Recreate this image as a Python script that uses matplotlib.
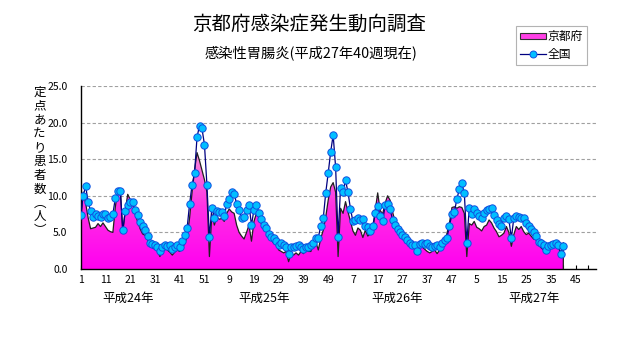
import numpy as np
import matplotlib
matplotlib.use('Agg')
import matplotlib.pyplot as plt
from matplotlib.colors import LinearSegmentedColormap
from matplotlib.patches import Patch
from matplotlib.lines import Line2D
from matplotlib.transforms import blended_transform_factory

plt.rcParams['font.family'] = ['Noto Sans CJK JP', 'DejaVu Sans']

title = '京都府感染症発生動向調査'
subtitle = '感染性胃腸炎(平成27年40週現在)'
series_names = ['京都府', '全国']
year_names = ['平成24年', '平成25年', '平成26年', '平成27年']
weeks_per_year = [52, 52, 52, 53]
ylabel_chars = list('定点あたり患者数︵人︶')
y_ticks = [0, 5, 10, 15, 20, 25]

kyoto = [
    6.5, 10.5, 9.0, 7.0, 5.5, 5.6, 5.7, 6.2, 5.8, 6.3,
    5.8, 5.3, 5.1, 5.0, 8.5, 10.8, 11.0, 5.0, 8.0, 10.2,
    9.5, 9.0, 7.5, 6.5, 5.5, 4.8, 4.6, 4.0, 3.4, 2.9,
    2.7, 2.5, 1.7, 2.5, 2.9, 2.6, 2.3, 1.9, 2.3, 2.6,
    2.4, 2.8, 3.5, 4.4, 7.0, 10.5, 13.5, 15.9, 14.8, 13.5,
    12.2, 10.5, 1.7, 7.5, 6.0, 7.1, 6.8, 6.9, 6.5, 7.6,
    8.2, 7.8, 7.6, 6.0, 5.0, 4.5, 4.1, 5.0, 6.0, 3.8,
    6.5, 7.6, 7.0, 6.2, 5.8, 5.3, 4.6, 4.0, 3.5, 3.3,
    2.6, 2.4, 2.2, 2.4, 1.0, 2.1, 1.9, 2.2, 1.9, 2.4,
    2.1, 2.6, 2.4, 2.4, 3.3, 3.7, 2.6, 4.2, 5.3, 7.1,
    9.4, 11.2, 11.8, 10.5, 1.7, 8.3, 7.6, 9.2, 7.8, 6.5,
    5.2, 4.6, 5.6, 5.3, 4.3, 5.3, 4.5, 4.8, 5.1, 8.0,
    10.4, 8.0, 7.5, 9.0, 10.0, 9.4, 7.8, 6.5, 5.8, 5.3,
    4.9, 4.5, 4.2, 3.7, 3.5, 3.3, 2.0, 3.0, 3.0, 2.7,
    2.4, 2.2, 2.4, 2.6, 2.1, 2.6, 2.8, 3.5, 4.9, 6.3,
    8.4, 8.5, 8.3, 8.5, 8.4, 7.6, 1.7, 6.2, 6.0, 6.5,
    5.7, 5.5, 5.2, 5.8, 6.0, 6.7, 6.3, 5.6, 5.1, 4.4,
    4.6, 4.9, 5.8, 5.0, 3.1, 4.7, 5.8, 5.4, 5.8, 5.1,
    4.7, 4.9, 4.5, 4.1, 4.0, 3.3, 2.9, 2.6, 2.4, 2.6,
    2.9, 3.5, 3.3, 2.9, 2.2, 3.6,
]

national = [
    7.4, 10.0, 11.3, 9.2, 7.9, 7.1, 7.5, 7.2, 7.1, 7.5,
    7.5, 6.9, 7.1, 7.5, 9.7, 10.6, 10.7, 5.3, 7.9, 8.7,
    9.2, 9.2, 8.0, 7.4, 6.4, 5.9, 5.3, 4.5, 3.6, 3.4,
    3.3, 3.0, 2.4, 3.0, 3.3, 3.2, 3.3, 2.8, 3.0, 3.3,
    3.0, 3.8, 4.6, 5.6, 8.9, 11.5, 13.1, 18.0, 19.6, 19.2,
    17.0, 11.5, 4.4, 8.4, 7.0, 7.9, 7.8, 7.8, 7.2, 8.9,
    9.6, 10.5, 10.3, 8.9, 8.0, 7.0, 7.1, 8.1, 8.8, 6.0,
    8.1, 8.7, 7.7, 6.8, 6.0, 5.6, 4.8, 4.4, 4.2, 3.8,
    3.3, 3.5, 3.3, 3.0, 2.1, 3.0, 3.0, 3.1, 3.3, 3.0,
    2.8, 3.0, 3.0, 3.3, 3.6, 4.2, 4.3, 5.9, 6.9, 10.4,
    13.1, 16.0, 18.3, 13.9, 4.4, 11.1, 10.5, 12.1, 10.5, 8.2,
    6.5, 6.7, 6.9, 6.7, 6.8, 5.9, 5.8, 5.2, 5.9, 7.7,
    8.6, 7.2, 6.5, 8.7, 8.9, 8.2, 6.7, 6.0, 5.5, 5.1,
    4.7, 4.4, 4.0, 3.5, 3.3, 3.3, 2.5, 3.4, 3.5, 3.4,
    3.5, 3.1, 3.0, 3.1, 3.3, 3.0, 3.6, 4.0, 4.3, 5.9,
    7.5, 7.8, 9.6, 10.9, 11.7, 10.4, 3.6, 8.4, 7.5, 8.2,
    7.6, 7.3, 6.9, 7.7, 8.0, 8.2, 8.3, 7.4, 6.7, 6.2,
    5.9, 6.9, 7.2, 6.8, 4.2, 7.0, 7.2, 7.1, 7.0, 6.9,
    6.3, 5.9, 5.4, 5.0, 4.5, 3.7, 3.5, 3.3, 2.6, 3.1,
    3.3, 3.4, 3.5, 3.3, 2.0, 3.2,
]

W, H = 631, 347
fig = plt.figure(figsize=(W / 100, H / 100), dpi=100)
ax_l, ax_r, ax_t, ax_b = 80.7, 595.5, 86, 269
ax = fig.add_axes([ax_l / W, 1 - ax_b / H, (ax_r - ax_l) / W, (ax_b - ax_t) / H])

n_total = sum(weeks_per_year)
x = np.arange(len(kyoto))
kyo = np.array(kyoto)
nat = np.array(national)

# gradient-filled area for Kyoto
coll = ax.fill_between(x, kyo, 0, facecolor='none', edgecolor='none', zorder=2)
cmap = LinearSegmentedColormap.from_list('pk', ['#FF00F0', '#FF30E4', '#F59AD8'])
grad = np.linspace(0, 1, 256).reshape(-1, 1)
im = ax.imshow(grad, extent=[0, n_total - 1, 0, 17], origin='lower', aspect='auto',
               cmap=cmap, zorder=2, interpolation='bilinear')
im.set_clip_path(coll.get_paths()[0], transform=ax.transData)

ax.plot(np.r_[x, x[-1]], np.r_[kyo, 0], color='#202020', lw=0.9, zorder=3)
ax.plot(x, nat, color='#000080', lw=0.9, marker='o', ms=5.3, mfc='#00BFFF',
        mec='#1050E0', mew=0.7, zorder=4)

ax.set_xlim(0, n_total - 1)
ax.set_ylim(0, 25)

# grid
ax.set_axisbelow(True)
ax.yaxis.grid(True, color='#A0A0A0', linestyle=(0, (3, 2)), lw=0.8, zorder=0)
ax.xaxis.grid(False)

for s in ['top', 'right']:
    ax.spines[s].set_visible(False)
for s in ['left', 'bottom']:
    ax.spines[s].set_color('black')
    ax.spines[s].set_linewidth(1.0)

ax.set_yticks(y_ticks)
ax.set_yticklabels([f'{v:.1f}' for v in y_ticks], fontsize=7.5)
ax.tick_params(axis='y', length=0, pad=9.5)

# x ticks: every 5 weeks, labels every 10 with week-of-year numbers
starts = np.cumsum([0] + weeks_per_year[:-1])
def week_of(i):
    yi = np.searchsorted(starts, i, side='right') - 1
    return i - starts[yi] + 1
xt = list(range(0, n_total, 5))
xl = [str(week_of(i)) if i % 10 == 0 else '' for i in xt]
ax.set_xticks(xt)
ax.set_xticklabels(xl, fontsize=7.5)
ax.tick_params(axis='x', direction='in', length=3.2, width=0.8, pad=4.5)

# year labels
year_label_x = [19, 74, 128, 183]
tr = blended_transform_factory(ax.transData, fig.transFigure)
for xp, nm in zip(year_label_x, year_names):
    fig.text(xp, 1 - 298 / H, nm, transform=tr, ha='center', va='center', fontsize=9)

# titles
fig.text(309 / W, 1 - 24 / H, title, ha='center', va='center', fontsize=14)
fig.text(311 / W, 1 - 53.5 / H, subtitle, ha='center', va='center', fontsize=10.3)

# vertical y label, one character per line
pitch = 13.8
for k, ch in enumerate(ylabel_chars):
    fig.text(39.5 / W, 1 - (92.5 + pitch * k) / H, ch, ha='center', va='center', fontsize=9)

# legend
handles = [Patch(facecolor='#FF40E6', edgecolor='#303030', lw=0.8),
           Line2D([], [], color='#000080', lw=0.9, marker='o', ms=5, mfc='#00BFFF',
                  mec='#1050E0', mew=0.7)]
leg = fig.legend(handles, series_names, loc='upper left', bbox_to_anchor=(516 / W, 1 - 26 / H),
                 frameon=True, fancybox=False, edgecolor='#A0A0A0', fontsize=8.5,
                 handlelength=2.2, handleheight=0.5, handletextpad=0.15, borderpad=0.35,
                 labelspacing=0.4, borderaxespad=0)
leg.get_frame().set_linewidth(0.8)

fig.savefig('out.png', dpi=100)
